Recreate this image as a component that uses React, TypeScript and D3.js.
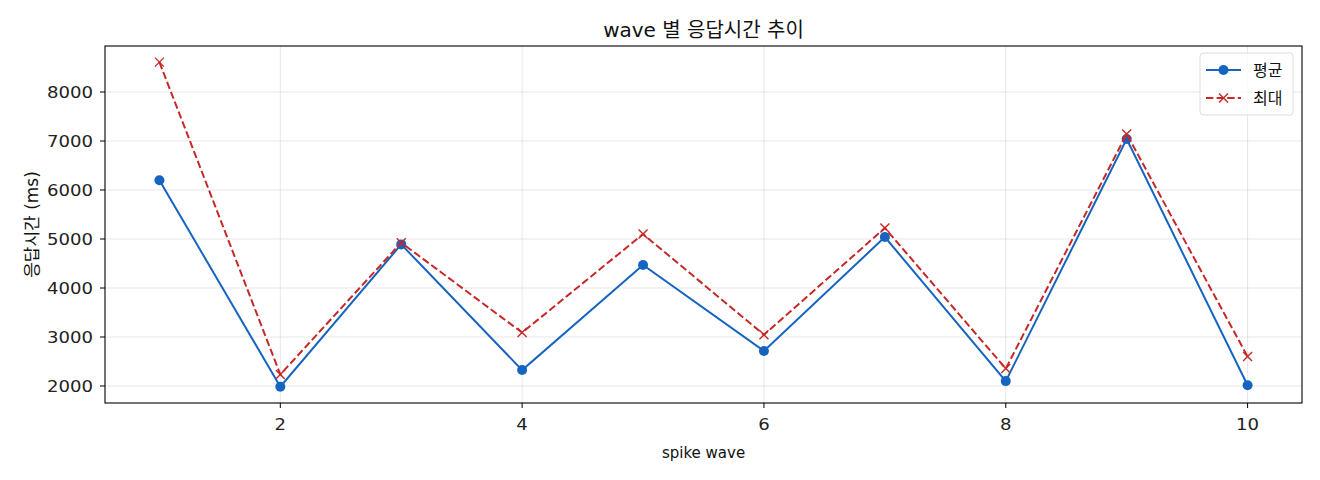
import React from "react";
import * as d3 from "d3";

const waves = [1, 2, 3, 4, 5, 6, 7, 8, 9, 10];
const avgMs = [6200, 1985, 4890, 2325, 4470, 2715, 5040, 2100, 7040, 2015];
const maxMs = [8610, 2235, 4925, 3090, 5100, 3045, 5225, 2355, 7145, 2600];
const xTicks = [2, 4, 6, 8, 10];
const yTicks = [2000, 3000, 4000, 5000, 6000, 7000, 8000];
const seriesNames = ["평균", "최대"];
const title = "wave 별 응답시간 추이";
const xLabel = "spike wave";
const yLabel = "응답시간 (ms)";

const W = 1320;
const H = 480;
const L = 105;
const R = 1302;
const T = 46;
const B = 403;
const FONT = "'DejaVu Sans', 'Noto Sans CJK KR', sans-serif";
const BLUE = "#1565C0";
const RED = "#C62828";
const DIGIT_W = 11.5;

export default function App() {
  const x = d3.scaleLinear().domain([0.55, 10.45]).range([L, R]);
  const y = d3.scaleLinear().domain([1653, 8939]).range([B, T]);
  const lineGen = d3
    .line<number>()
    .x((_, i) => x(waves[i]))
    .y((d) => y(d));

  const xMark = (cx: number, cy: number, s: number, key: string) => (
    <g key={key}>
      <line x1={cx - s} y1={cy - s} x2={cx + s} y2={cy + s} stroke={RED} strokeWidth={1.4} />
      <line x1={cx - s} y1={cy + s} x2={cx + s} y2={cy - s} stroke={RED} strokeWidth={1.4} />
    </g>
  );

  return (
    <div style={{ position: "fixed", left: 0, top: 0 }}>
      <svg width={W} height={H} style={{ display: "block", background: "#fff" }} fontFamily={FONT}>
        <rect x={0} y={0} width={W} height={H} fill="#fff" />
        {/* grid */}
        {xTicks.map((t) => (
          <line key={"gx" + t} x1={x(t)} x2={x(t)} y1={T} y2={B} stroke="#b0b0b0" strokeOpacity={0.3} strokeWidth={1} />
        ))}
        {yTicks.map((t) => (
          <line key={"gy" + t} x1={L} x2={R} y1={y(t)} y2={y(t)} stroke="#b0b0b0" strokeOpacity={0.3} strokeWidth={1} />
        ))}
        {/* lines */}
        <path d={lineGen(avgMs) || ""} fill="none" stroke={BLUE} strokeWidth={2} />
        {avgMs.map((v, i) => (
          <circle key={"c" + i} cx={x(waves[i])} cy={y(v)} r={5} fill={BLUE} />
        ))}
        <path d={lineGen(maxMs) || ""} fill="none" stroke={RED} strokeWidth={2} strokeDasharray="7.4,3.2" />
        {maxMs.map((v, i) => xMark(x(waves[i]), y(v), 4.5, "m" + i))}
        {/* frame */}
        <rect x={L} y={T} width={R - L} height={B - T} fill="none" stroke="#000" strokeWidth={1.1} />
        {/* ticks */}
        {xTicks.map((t) => {
          const s = String(t);
          return (
            <g key={"xt" + t}>
              <line x1={x(t)} x2={x(t)} y1={B} y2={B + 5} stroke="#000" strokeWidth={1} />
              <text
                x={x(t)}
                y={B + 27}
                textAnchor="middle"
                fontSize={16}
                textLength={s.length * DIGIT_W}
                lengthAdjust="spacingAndGlyphs"
                fill="#222"
              >
                {s}
              </text>
            </g>
          );
        })}
        {yTicks.map((t) => {
          const s = String(t);
          return (
            <g key={"yt" + t}>
              <line x1={L - 5} x2={L} y1={y(t)} y2={y(t)} stroke="#000" strokeWidth={1} />
              <text
                x={L - 12}
                y={y(t)}
                dy="0.36em"
                textAnchor="end"
                fontSize={16}
                textLength={s.length * DIGIT_W}
                lengthAdjust="spacingAndGlyphs"
                fill="#222"
              >
                {s}
              </text>
            </g>
          );
        })}
        {/* labels */}
        <text x={(L + R) / 2} y={37} textAnchor="middle" fontSize={20} fill="#111">
          {title}
        </text>
        <text x={(L + R) / 2} y={458} textAnchor="middle" fontSize={15} fill="#111">
          {xLabel}
        </text>
        <text
          transform={`translate(38,${(T + B) / 2}) rotate(-90)`}
          textAnchor="middle"
          fontSize={17}
          fill="#111"
        >
          {yLabel}
        </text>
        {/* legend */}
        <g>
          <rect x={1200} y={53} width={93} height={62} rx={3} fill="#fff" fillOpacity={0.8} stroke="#ddd" />
          <line x1={1206} x2={1241} y1={70} y2={70} stroke={BLUE} strokeWidth={2} />
          <circle cx={1223.5} cy={70} r={5} fill={BLUE} />
          <text x={1253} y={70} dy="0.36em" fontSize={16} fill="#111">
            {seriesNames[0]}
          </text>
          <line x1={1206} x2={1241} y1={98} y2={98} stroke={RED} strokeWidth={2} strokeDasharray="7.4,3.2" />
          {xMark(1223.5, 98, 4.5, "lm")}
          <text x={1253} y={98} dy="0.36em" fontSize={16} fill="#111">
            {seriesNames[1]}
          </text>
        </g>
      </svg>
    </div>
  );
}
